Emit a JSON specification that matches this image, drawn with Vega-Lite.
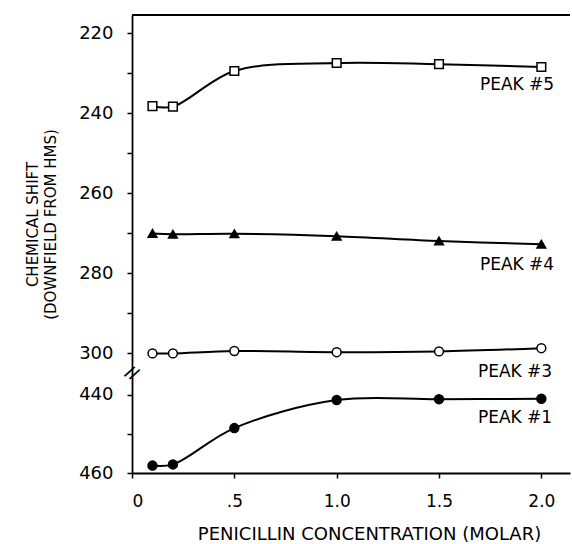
{
  "$schema": "https://vega.github.io/schema/vega-lite/v6.json",
  "autosize": "none",
  "padding": {"left": 132, "top": 15, "right": 2, "bottom": 71},
  "width": 438,
  "height": 458,
  "background": "white",
  "config": {
    "view": {"stroke": null},
    "font": "DejaVu Sans"
  },
  "datasets": {
    "points": [
      {"conc": 0.1, "shift": 238.3, "peak": "PEAK #5"},
      {"conc": 0.2, "shift": 238.4, "peak": "PEAK #5"},
      {"conc": 0.5, "shift": 229.5, "peak": "PEAK #5"},
      {"conc": 1.0, "shift": 227.5, "peak": "PEAK #5"},
      {"conc": 1.5, "shift": 227.8, "peak": "PEAK #5"},
      {"conc": 2.0, "shift": 228.5, "peak": "PEAK #5"},
      {"conc": 0.1, "shift": 270.1, "peak": "PEAK #4"},
      {"conc": 0.2, "shift": 270.3, "peak": "PEAK #4"},
      {"conc": 0.5, "shift": 270.2, "peak": "PEAK #4"},
      {"conc": 1.0, "shift": 270.8, "peak": "PEAK #4"},
      {"conc": 1.5, "shift": 272.0, "peak": "PEAK #4"},
      {"conc": 2.0, "shift": 272.8, "peak": "PEAK #4"},
      {"conc": 0.1, "shift": 300.1, "peak": "PEAK #3"},
      {"conc": 0.2, "shift": 300.1, "peak": "PEAK #3"},
      {"conc": 0.5, "shift": 299.5, "peak": "PEAK #3"},
      {"conc": 1.0, "shift": 299.8, "peak": "PEAK #3"},
      {"conc": 1.5, "shift": 299.6, "peak": "PEAK #3"},
      {"conc": 2.0, "shift": 298.8, "peak": "PEAK #3"},
      {"conc": 0.1, "shift": 458.1, "peak": "PEAK #1"},
      {"conc": 0.2, "shift": 457.8, "peak": "PEAK #1"},
      {"conc": 0.5, "shift": 448.5, "peak": "PEAK #1"},
      {"conc": 1.0, "shift": 441.3, "peak": "PEAK #1"},
      {"conc": 1.5, "shift": 441.1, "peak": "PEAK #1"},
      {"conc": 2.0, "shift": 441.0, "peak": "PEAK #1"}
    ],
    "labels": [
      {"conc": 1.70, "shift": 233.0, "peak": "PEAK #5"},
      {"conc": 1.70, "shift": 278.0, "peak": "PEAK #4"},
      {"conc": 1.69, "shift": 304.7, "peak": "PEAK #3"},
      {"conc": 1.69, "shift": 445.9, "peak": "PEAK #1"}
    ],
    "brk": [{"conc": 0, "shift": 305}],
    "frame": [{"shift": 215.5}]
  },
  "encoding": {
    "x": {
      "field": "conc", "type": "quantitative",
      "scale": {"domain": [0, 2.14], "nice": false, "zero": false},
      "axis": {
        "values": [0, 0.5, 1, 1.5, 2],
        "labelExpr": "datum.value == 0 ? '0' : (datum.value == 0.5 ? '.5' : format(datum.value, '.1f'))",
        "title": "PENICILLIN CONCENTRATION (MOLAR)",
        "titleFont": "DejaVu Sans", "titleFontWeight": "normal", "titleFontSize": 18,
        "titleColor": "black", "titleX": 237, "titleY": 52, "titleBaseline": "top",
        "labelFont": "DejaVu Sans", "labelFontSize": 17, "labelColor": "black",
        "labelPadding": 15, "labelBaseline": "top",
        "tickSize": 5, "tickColor": "black", "tickWidth": 1.5,
        "domainColor": "black", "domainWidth": 1.8,
        "grid": false
      }
    },
    "y": {
      "field": "shift", "type": "quantitative",
      "scale": {"domain": [215.5, 305, 434.4, 460], "range": [0, 358, 358, 458], "nice": false, "zero": false},
      "axis": {
        "values": [220, 230, 240, 250, 260, 270, 280, 290, 300, 440, 450, 460],
        "labelExpr": "datum.value % 20 == 0 ? format(datum.value, 'd') : ''",
        "title": ["CHEMICAL SHIFT", "(DOWNFIELD FROM HMS)"],
        "titleFont": "DejaVu Sans", "titleFontWeight": "normal", "titleFontSize": 15,
        "titleColor": "black", "titleX": -100, "titleY": 209, "titleAngle": -90,
        "titleBaseline": "middle", "titleAlign": "center", "titleLineHeight": 18,
        "labelFont": "DejaVu Sans", "labelFontSize": 18, "labelColor": "black",
        "labelPadding": 14, "labelBaseline": "middle",
        "tickSize": 5, "tickColor": "black", "tickWidth": 1.5,
        "domainColor": "black", "domainWidth": 1.8,
        "grid": false
      }
    }
  },
  "layer": [
    {
      "data": {"name": "frame"},
      "mark": {"type": "rule", "color": "black", "strokeWidth": 1.8},
      "encoding": {"x": null, "y": {"field": "shift", "type": "quantitative"}}
    },
    {
      "data": {"name": "points"},
      "mark": {"type": "line", "interpolate": "catmull-rom", "color": "black", "strokeWidth": 2},
      "encoding": {"detail": {"field": "peak"}}
    },
    {
      "data": {"name": "points"},
      "mark": {"type": "point", "filled": false, "strokeWidth": 1.5, "stroke": "black", "opacity": 1},
      "encoding": {
        "shape": {"field": "peak", "type": "nominal", "legend": null,
          "scale": {"domain": ["PEAK #5", "PEAK #4", "PEAK #3", "PEAK #1"], "range": ["square", "triangle-up", "circle", "circle"]}},
        "fill": {"field": "peak", "type": "nominal", "legend": null,
          "scale": {"domain": ["PEAK #5", "PEAK #4", "PEAK #3", "PEAK #1"], "range": ["white", "black", "white", "black"]}},
        "size": {"field": "peak", "type": "nominal", "legend": null,
          "scale": {"domain": ["PEAK #5", "PEAK #4", "PEAK #3", "PEAK #1"], "range": [75, 80, 50, 90]}}
      }
    },
    {
      "data": {"name": "labels"},
      "mark": {"type": "text", "align": "left", "baseline": "middle", "fontSize": 17, "font": "DejaVu Sans", "color": "black"},
      "encoding": {"text": {"field": "peak"}}
    },
    {
      "data": {"name": "brk"},
      "mark": {"type": "text", "text": "//", "align": "center", "baseline": "middle", "fontSize": 16, "angle": 30, "color": "black", "fontWeight": "bold"},
      "encoding": {}
    }
  ]
}
